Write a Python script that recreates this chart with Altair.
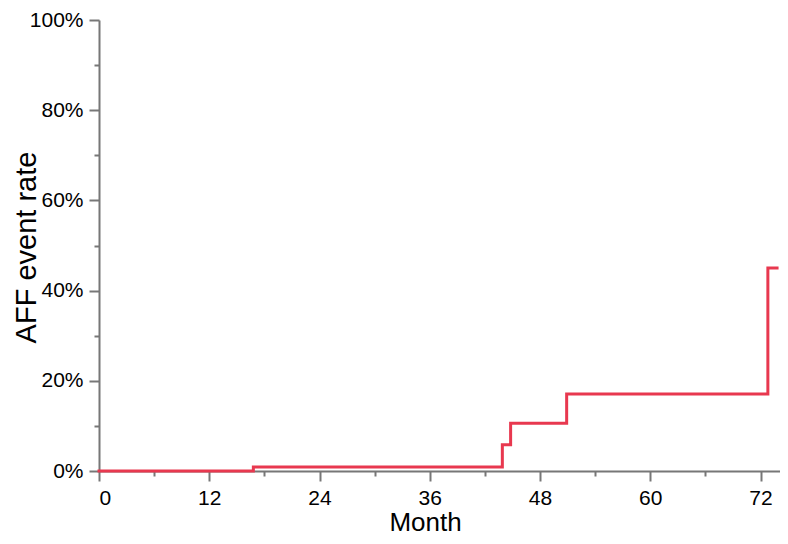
import altair as alt
import pandas as pd

months = [0, 16.8, 43.9, 44.8, 50.9, 72.8, 73.8]
rates = [0.0, 0.009, 0.058, 0.106, 0.171, 0.45, 0.45]

x_ticks = [0, 6, 12, 18, 24, 30, 36, 42, 48, 54, 60, 66, 72]
y_ticks = [0, 0.1, 0.2, 0.3, 0.4, 0.5, 0.6, 0.7, 0.8, 0.9, 1.0]

df = pd.DataFrame({"Month": months, "Rate": rates})

FONT = "Liberation Sans"
AX = "#777777"

chart = alt.Chart(df).mark_line(
    interpolate="step-after", color="#E8384F", strokeWidth=3, strokeCap="square"
).encode(
    x=alt.X("Month:Q",
            scale=alt.Scale(domain=[0, 74.12], nice=False, zero=False),
            axis=alt.Axis(
                values=x_ticks,
                labelExpr="datum.value % 12 === 0 ? datum.value : ''",
                tickSize={"condition": {"test": "datum.value % 12 === 0", "value": 10}, "value": 5},
                title="Month",
                titleX=326, titleY=59, titleBaseline="alphabetic", titleAlign="center",
                titleFontSize=26, labelPadding=6,
            )),
    y=alt.Y("Rate:Q",
            scale=alt.Scale(domain=[0, 1], nice=False),
            axis=alt.Axis(
                values=y_ticks,
                labelExpr="round(datum.value * 10) % 2 === 0 ? format(datum.value, '.0%') : ''",
                tickSize={"condition": {"test": "round(datum.value * 10) % 2 === 0", "value": 10}, "value": 5},
                title="AFF event rate",
                titleX=-64, titleY=227, titleBaseline="alphabetic", titleAlign="center",
                titleAngle=270, titleFontSize=29, labelPadding=6,
            )),
).properties(
    width=681, height=451,
    autosize=alt.AutoSizeParams(type="none"),
    padding={"left": 91, "top": 12, "right": 0, "bottom": 65},
).configure_view(stroke=None).configure_axis(
    grid=False, domainColor=AX, domainWidth=2, tickColor=AX, tickWidth=2,
    labelFont=FONT, titleFont=FONT, labelFontSize=21, labelColor="black",
    titleColor="black", titleFontWeight="normal",
)

chart.save("out.html", embed_options={"renderer": "svg", "actions": False})
